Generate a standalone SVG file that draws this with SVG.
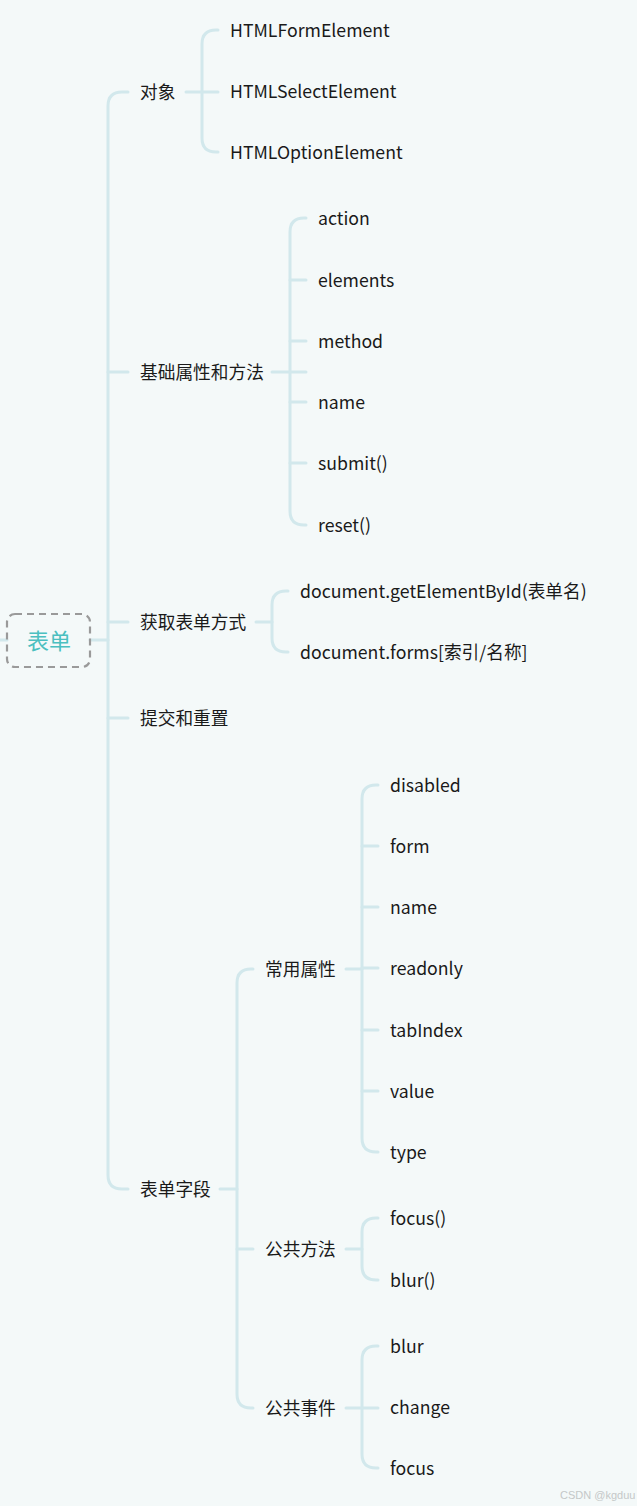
<svg xmlns="http://www.w3.org/2000/svg" width="637" height="1506" viewBox="0 0 637 1506">
<style>
.bg{fill:#F4F9F9}
.c{fill:none;stroke:#D2E8EC;stroke-width:3;stroke-linecap:round}
.t{font-family:"Microsoft YaHei","Noto Sans CJK SC","Noto Sans",sans-serif;font-size:17.7px;fill:#1a1a1a;dominant-baseline:central}
.root{font-family:"Microsoft YaHei","Noto Sans CJK SC",sans-serif;font-size:22px;fill:#4BBFC0;dominant-baseline:central;text-anchor:middle}
.wm{font-family:"Liberation Sans",sans-serif;font-size:11px;fill:#c4c8c8}
</style>
<rect class="bg" x="0" y="0" width="637" height="1506"/>
<g id="connectors">
<path class="c" d="M0,640 L7,640"/>
<path class="c" d="M90,640 L108,640"/>
<path class="c" d="M128,92 L122,92 Q108,92 108,106 L108,1175 Q108,1189 122,1189 L128,1189"/>
<path class="c" d="M108,372 L128,372 M108,622 L128,622 M108,718 L128,718"/>
<path class="c" d="M186,92 L218,92"/>
<path class="c" d="M218,30 L216,30 Q202,30 202,44 L202,138 Q202,152 216,152 L218,152"/>
<path class="c" d="M272,372 L306,372"/>
<path class="c" d="M306,218 L304,218 Q290,218 290,232 L290,511 Q290,525 304,525 L306,525"/>
<path class="c" d="M290,280 L306,280 M290,341 L306,341 M290,402 L306,402 M290,463 L306,463"/>
<path class="c" d="M256,622 L272,622"/>
<path class="c" d="M288,591 L286,591 Q272,591 272,605 L272,638 Q272,652 286,652 L288,652"/>
<path class="c" d="M220,1189 L237,1189"/>
<path class="c" d="M253,969 L251,969 Q237,969 237,983 L237,1394 Q237,1408 251,1408 L253,1408"/>
<path class="c" d="M237,1249 L253,1249"/>
<path class="c" d="M346,969 L362,969"/>
<path class="c" d="M378,785 L376,785 Q362,785 362,799 L362,1138 Q362,1152 376,1152 L378,1152"/>
<path class="c" d="M362,846 L378,846 M362,907 L378,907 M362,968 L378,968 M362,1030 L378,1030 M362,1091 L378,1091"/>
<path class="c" d="M346,1249 L362,1249"/>
<path class="c" d="M378,1218 L376,1218 Q362,1218 362,1232 L362,1266 Q362,1280 376,1280 L378,1280"/>
<path class="c" d="M346,1408 L378,1408"/>
<path class="c" d="M378,1346 L376,1346 Q362,1346 362,1360 L362,1454 Q362,1468 376,1468 L378,1468"/>
</g>
<g id="root">
<rect x="7" y="614" width="83" height="53" rx="8" fill="none" stroke="#9a9a9a" stroke-width="2.2" stroke-dasharray="7 5"/>
<text class="root" x="49" y="639">表单</text>
</g>
<g id="n-duixiang"><text class="t" x="140" y="91">对象</text></g>
<g id="n-form"><text class="t" x="230" y="29">HTMLFormElement</text></g>
<g id="n-select"><text class="t" x="230" y="90">HTMLSelectElement</text></g>
<g id="n-option"><text class="t" x="230" y="151">HTMLOptionElement</text></g>
<g id="n-jichu"><text class="t" x="140" y="371">基础属性和方法</text></g>
<g id="n-action"><text class="t" x="318" y="217">action</text></g>
<g id="n-elements"><text class="t" x="318" y="279">elements</text></g>
<g id="n-method"><text class="t" x="318" y="340">method</text></g>
<g id="n-name1"><text class="t" x="318" y="401">name</text></g>
<g id="n-submit"><text class="t" x="318" y="462">submit()</text></g>
<g id="n-reset"><text class="t" x="318" y="524">reset()</text></g>
<g id="n-huoqu"><text class="t" x="140" y="621">获取表单方式</text></g>
<g id="n-getbyid"><text class="t" x="300" y="590">document.getElementById(表单名)</text></g>
<g id="n-forms"><text class="t" x="300" y="651">document.forms[索引/名称]</text></g>
<g id="n-tijiao"><text class="t" x="140" y="717">提交和重置</text></g>
<g id="n-ziduan"><text class="t" x="140" y="1188">表单字段</text></g>
<g id="n-changyong"><text class="t" x="265" y="968">常用属性</text></g>
<g id="n-disabled"><text class="t" x="390" y="784">disabled</text></g>
<g id="n-form2"><text class="t" x="390" y="845">form</text></g>
<g id="n-name2"><text class="t" x="390" y="906">name</text></g>
<g id="n-readonly"><text class="t" x="390" y="967">readonly</text></g>
<g id="n-tabindex"><text class="t" x="390" y="1029">tabIndex</text></g>
<g id="n-value"><text class="t" x="390" y="1090">value</text></g>
<g id="n-type"><text class="t" x="390" y="1151">type</text></g>
<g id="n-fangfa"><text class="t" x="265" y="1248">公共方法</text></g>
<g id="n-focusm"><text class="t" x="390" y="1217">focus()</text></g>
<g id="n-blurm"><text class="t" x="390" y="1279">blur()</text></g>
<g id="n-shijian"><text class="t" x="265" y="1407">公共事件</text></g>
<g id="n-blur"><text class="t" x="390" y="1345">blur</text></g>
<g id="n-change"><text class="t" x="390" y="1406">change</text></g>
<g id="n-focus"><text class="t" x="390" y="1467">focus</text></g>
<text class="wm" x="560" y="1499">CSDN @kgduu</text>
</svg>
